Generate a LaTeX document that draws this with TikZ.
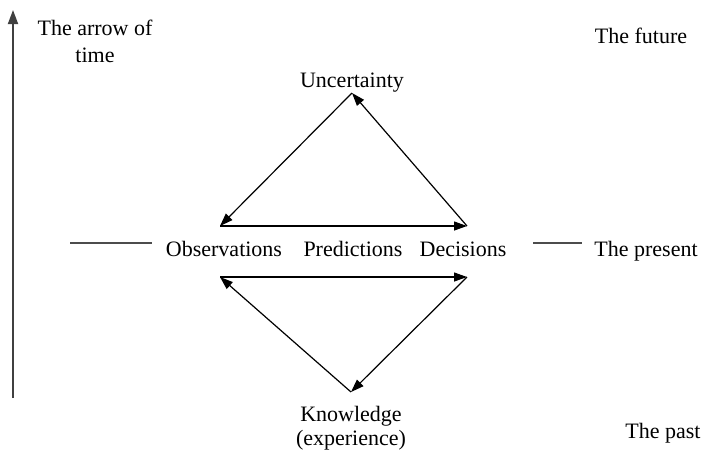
\documentclass[tikz,border=0pt]{standalone}
\usepackage{fontspec}
\setmainfont{Liberation Serif}
\usetikzlibrary{arrows.meta, positioning}

\begin{document}
\begin{tikzpicture}[x=0.5pt,y=-0.5pt]
\tikzset{
    mytext/.style={font=\fontsize{11}{12}\selectfont, align=center, inner sep=0pt, anchor=base},
    myarrow/.style={-{Triangle[length=6.5pt,width=4.5pt]}, line width=0.6pt},
    timearrow/.style={-{Triangle[length=7pt,width=5pt]}, line width=0.9pt, black!75},
    myline/.style={line width=0.9pt, black!70}
}
\useasboundingbox (0,0) rectangle (701,452);
  % labels
  \node[mytext] (arrowtxt) at (95,62) {The arrow of\\[1.5pt]time};
  \node[mytext] (future) at (641,43) {The future};
  \node[mytext] (unc) at (352,87) {Uncertainty};
  \node[mytext] (obs) at (224,256) {Observations};
  \node[mytext] (pred) at (353,256) {Predictions};
  \node[mytext] (dec) at (463,256) {Decisions};
  \node[mytext] (present) at (646,256) {The present};
  \node[mytext] (know) at (351,445) {Knowledge\\(experience)};
  \node[mytext] (past) at (663,438) {The past};
  % corners of the two triangles
  \coordinate (uTip) at (352,93);
  \coordinate (oTop) at (220,226);
  \coordinate (dTop) at (467,226);
  \coordinate (oBot) at (220,277);
  \coordinate (dBot) at (467,277);
  \coordinate (kTip) at (351,392);
  % arrow of time and the present
  \coordinate (tBot) at (13,398);
  \coordinate (tTop) at (13,10);
  \coordinate (lA) at (70,243);
  \coordinate (lB) at (152,243);
  \coordinate (rA) at (533,243);
  \coordinate (rB) at (582,243);
  \draw[timearrow] (tBot) -- (tTop);
  \draw[myline] (lA) -- (lB);
  \draw[myline] (rA) -- (rB);
  % upper triangle
  \draw[myarrow] (uTip) -- (oTop);
  \draw[myarrow] (dTop) -- (uTip);
  \draw[myarrow] (oTop) -- (dTop);
  % lower triangle
  \draw[myarrow] (oBot) -- (dBot);
  \draw[myarrow] (kTip) -- (oBot);
  \draw[myarrow] (dBot) -- (kTip);
\end{tikzpicture}
\end{document}
